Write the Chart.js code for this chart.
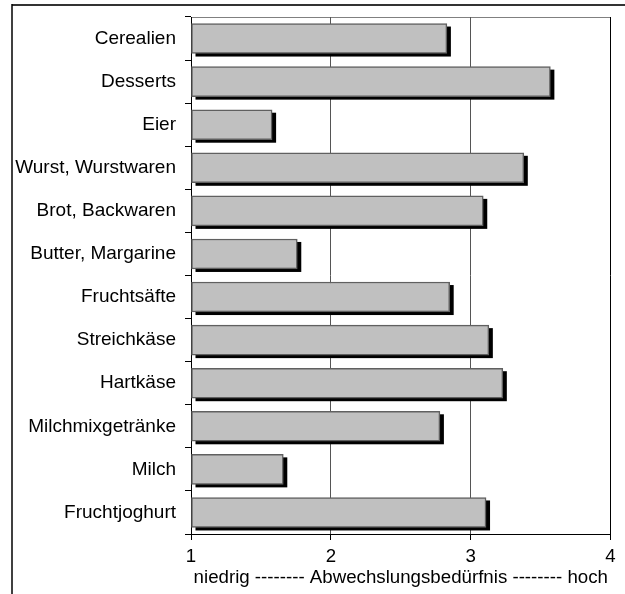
<!DOCTYPE html>
<html>
<head>
<meta charset="utf-8">
<script src="https://cdn.jsdelivr.net/npm/chart.js@4"></script>
<style>
  html, body { margin: 0; padding: 0; background: #fff; }
  #box { position: relative; width: 625px; height: 594px; }
</style>
</head>
<body>
<div id="box"><canvas id="graficoAbwechslung" width="625" height="594"></canvas></div>
<script>
let produkte = ['Cerealien', 'Desserts', 'Eier', 'Wurst, Wurstwaren', 'Brot, Backwaren',
  'Butter, Margarine', 'Fruchtsäfte', 'Streichkäse', 'Hartkäse', 'Milchmixgetränke',
  'Milch', 'Fruchtjoghurt'];
let bedurfnis = [2.83, 3.57, 1.58, 3.38, 3.09, 1.76, 2.85, 3.13, 3.23, 2.78, 1.66, 3.11];
let skala = [1, 2, 3, 4];
let achsenTitel = 'niedrig -------- Abwechslungsbedürfnis -------- hoch';

document.addEventListener('DOMContentLoaded', function() {
  graficoAbwechslung();
});

// schwarzer Schatten unter den Balken + Rahmen
const schatten = {
  id: 'schatten',
  beforeDraw(chart) {
    const c = chart.ctx;
    c.save();
    c.strokeStyle = '#333';
    c.lineWidth = 2;
    c.beginPath();
    c.moveTo(12, 5);
    c.lineTo(625, 5);
    c.stroke();
    c.strokeStyle = '#000';
    c.lineWidth = 1.5;
    c.beginPath();
    c.moveTo(12, 4);
    c.lineTo(12, 594);
    c.stroke();
    const a = chart.chartArea;
    c.strokeStyle = '#808080';
    c.lineWidth = 1;
    c.beginPath();
    c.moveTo(a.left, Math.round(a.top) + 0.5);
    c.lineTo(a.right, Math.round(a.top) + 0.5);
    c.stroke();
    c.restore();
  },
  beforeDatasetsDraw(chart) {
    const c = chart.ctx;
    const meta = chart.getDatasetMeta(0);
    c.save();
    c.fillStyle = '#000';
    for (const bar of meta.data) {
      const p = bar.getProps(['x', 'y', 'base', 'height'], true);
      c.fillRect(p.base + 4, p.y - p.height / 2 + 3, p.x - p.base, p.height);
    }
    c.restore();
  }
};

function graficoAbwechslung() {
  const ctx = document.getElementById('graficoAbwechslung');
  Chart.defaults.font.family = 'Arial, "Liberation Sans", sans-serif';
  Chart.defaults.color = '#000';

  new Chart(ctx, {
    type: 'bar',
    data: {
      labels: produkte,
      datasets: [{
        data: bedurfnis,
        base: 1,
        backgroundColor: '#c0c0c0',
        borderColor: '#606060',
        borderWidth: 1.5,
        borderSkipped: false,
        barThickness: 30
      }]
    },
    options: {
      indexAxis: 'y',
      responsive: false,
      animation: false,
      layout: { padding: { top: 17, right: 14.5, left: 0, bottom: 0 } },
      plugins: {
        legend: { display: false },
        tooltip: { enabled: false }
      },
      scales: {
        x: {
          type: 'linear',
          min: skala[0],
          max: skala[skala.length - 1],
          afterBuildTicks(scale) {
            scale.ticks = skala.map(v => ({ value: v }));
          },
          afterFit(scale) {
            scale.height = 60;
            scale.paddingLeft = 0;
            scale.paddingRight = 0;
          },
          border: { color: '#000', width: 1 },
          grid: {
            color: c => (c.tick && (c.tick.value === 1 || c.tick.value === 4)) ? '#000' : '#555',
            tickColor: '#000',
            tickLength: 6,
            lineWidth: 1
          },
          ticks: { font: { size: 18.7 }, padding: 5.5, maxRotation: 0 },
          title: {
            display: true,
            text: achsenTitel,
            font: { size: 18.7 },
            padding: { top: 0, bottom: 5 }
          }
        },
        y: {
          afterFit(scale) {
            scale.width = 191;
            scale.paddingTop = 0;
            scale.paddingBottom = 0;
          },
          border: { color: '#000', width: 1 },
          grid: {
            drawOnChartArea: false,
            offset: true,
            tickColor: '#000',
            tickLength: 6
          },
          ticks: { font: { size: 19 }, padding: 9 }
        }
      }
    },
    plugins: [schatten]
  });
}
</script>
</body>
</html>
